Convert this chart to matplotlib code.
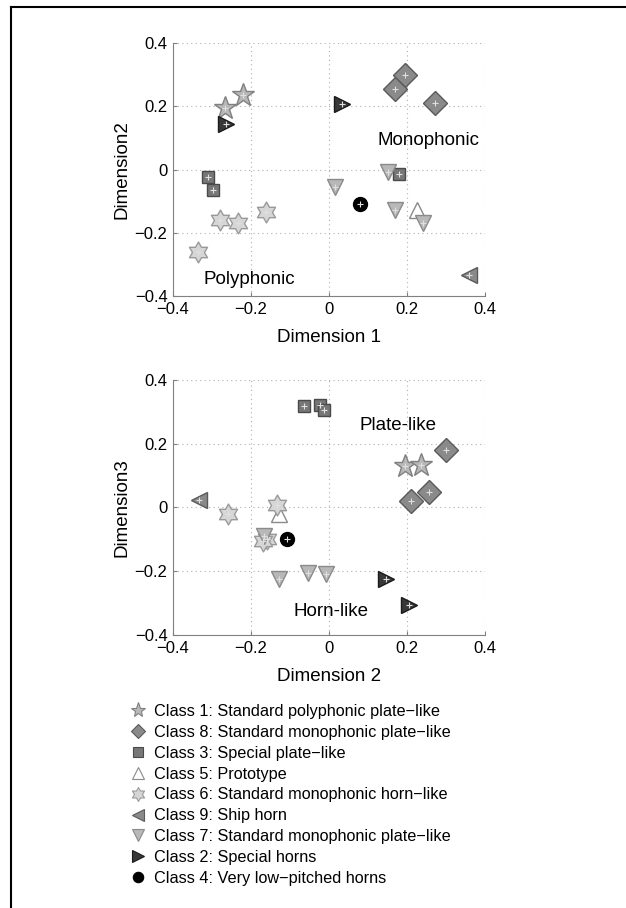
import matplotlib
matplotlib.use("Agg")
import matplotlib.pyplot as plt
from matplotlib.lines import Line2D
from matplotlib.path import Path

plt.rcParams['font.family'] = ['Liberation Sans', 'DejaVu Sans']

# coordinates of each sound class in the 3-D space (dim1, dim2, dim3)
c1_d1 = [-0.267, -0.22]
c1_d2 = [0.196, 0.237]
c1_d3 = [0.131, 0.133]

c8_d1 = [0.195, 0.169, 0.272]
c8_d2 = [0.30, 0.256, 0.211]
c8_d3 = [0.18, 0.049, 0.021]

c3_d1 = [-0.31, -0.297, 0.18]
c3_d2 = [-0.024, -0.064, -0.014]
c3_d3 = [0.32, 0.318, 0.305]

c5_d1 = [0.225]
c5_d2 = [-0.129]
c5_d3 = [-0.02]

c6_d1 = [-0.28, -0.233, -0.162, -0.335]
c6_d2 = [-0.16, -0.17, -0.134, -0.26]
c6_d3 = [-0.10, -0.105, 0.007, -0.022]

c9_d1 = [0.358]
c9_d2 = [-0.333]
c9_d3 = [0.023]

c7_d1 = [0.015, 0.152, 0.169, 0.24]
c7_d2 = [-0.055, -0.008, -0.129, -0.168]
c7_d3 = [-0.207, -0.209, -0.223, -0.088]

c2_d1 = [0.033, -0.264]
c2_d2 = [0.206, 0.145]
c2_d3 = [-0.306, -0.225]

c4_d1 = [0.08]
c4_d2 = [-0.108]
c4_d3 = [-0.10]

labels = ["Class 1: Standard polyphonic plate\u2212like",
          "Class 8: Standard monophonic plate\u2212like",
          "Class 3: Special plate\u2212like",
          "Class 5: Prototype",
          "Class 6: Standard monophonic horn\u2212like",
          "Class 9: Ship horn",
          "Class 7: Standard monophonic plate\u2212like",
          "Class 2: Special horns",
          "Class 4: Very low\u2212pitched horns"]

ticks = [-0.4, -0.2, 0, 0.2, 0.4]
ticklabels = ["\u22120.4", "\u22120.2", "0", "0.2", "0.4"]

hexagram = Path.unit_regular_star(6, 0.577)

# marker, size, legend size, face, edge, plus inside
styles = [
    ('*', 17, 11, '#b8b8b8', '#808080', True),
    ('D', 12.5, 7, '#8a8a8a', '#5a5a5a', True),
    ('s', 9, 6.5, '#777777', '#4a4a4a', True),
    ('^', 12, 8.5, 'white', '#8a8a8a', False),
    (hexagram, 15, 10, '#d6d6d6', '#9a9a9a', True),
    ('<', 12, 8.5, '#8a8a8a', '#5a5a5a', True),
    ('v', 12, 8.5, '#b8b8b8', '#8a8a8a', True),
    ('>', 12, 8.5, '#383838', '#1a1a1a', True),
    ('o', 10, 7.5, 'black', 'black', True),
]

data = [
    (c1_d1, c1_d2, c1_d3), (c8_d1, c8_d2, c8_d3), (c3_d1, c3_d2, c3_d3),
    (c5_d1, c5_d2, c5_d3), (c6_d1, c6_d2, c6_d3), (c9_d1, c9_d2, c9_d3),
    (c7_d1, c7_d2, c7_d3), (c2_d1, c2_d2, c2_d3), (c4_d1, c4_d2, c4_d3),
]

fig = plt.figure(figsize=(6.26, 9.08), dpi=100)
ax1 = fig.add_axes([0.2764, 0.674, 0.4984, 0.2786])
ax2 = fig.add_axes([0.2764, 0.3007, 0.4984, 0.2808])


def draw(ax, xs, ys, st):
    m, ms, lms, fc, ec, plus = st
    ax.plot(xs, ys, linestyle='none', marker=m, markersize=ms,
            markerfacecolor=fc, markeredgecolor=ec, markeredgewidth=1.0,
            clip_on=False, zorder=3)
    if plus:
        ax.plot(xs, ys, linestyle='none', marker='+', markersize=5,
                markeredgecolor='#e0e0e0', markeredgewidth=0.8,
                clip_on=False, zorder=4)


for (d1, d2, d3), st in zip(data, styles):
    draw(ax1, d1, d2, st)
    draw(ax2, d2, d3, st)

for ax in (ax1, ax2):
    ax.set_xlim(-0.4, 0.4)
    ax.set_ylim(-0.4, 0.4)
    ax.set_xticks(ticks)
    ax.set_yticks(ticks)
    ax.set_xticklabels(ticklabels)
    ax.set_yticklabels(ticklabels)
    ax.grid(True, linestyle=(0, (1, 3)), color='#b0b0b0', linewidth=0.8)
    ax.set_axisbelow(True)
    ax.spines['top'].set_visible(False)
    ax.spines['right'].set_visible(False)
    ax.spines['left'].set_color('#808080')
    ax.spines['bottom'].set_color('#808080')
    ax.tick_params(direction='in', length=3, color='#808080',
                   labelsize=12, pad=4)

ax1.set_xlabel("Dimension 1", fontsize=13.5, labelpad=9)
ax1.set_ylabel("Dimension2", fontsize=13.5, labelpad=3)
ax2.set_xlabel("Dimension 2", fontsize=13.5, labelpad=9)
ax2.set_ylabel("Dimension3", fontsize=13.5, labelpad=3)

ax1.text(0.256, 0.091, "Monophonic", fontsize=13.5, ha='center', va='center')
ax1.text(-0.204, -0.348, "Polyphonic", fontsize=13.5, ha='center', va='center')
ax2.text(0.178, 0.258, "Plate-like", fontsize=13.5, ha='center', va='center')
ax2.text(0.004, -0.327, "Horn-like", fontsize=13.5, ha='center', va='center')

handles = []
for st, lab in zip(styles, labels):
    m, ms, lms, fc, ec, plus = st
    handles.append(Line2D([], [], linestyle='none', marker=m,
                          markersize=lms, markerfacecolor=fc,
                          markeredgecolor=ec, markeredgewidth=0.8, label=lab))

fig.legend(handles=handles, loc='upper left',
           bbox_to_anchor=(130 / 626, 1 - 704 / 908), frameon=False,
           fontsize=11.7, labelspacing=0.36, handletextpad=0.5,
           handlelength=1.0, borderaxespad=0, borderpad=0)

# outer frame (top and left edges)
fig.add_artist(Line2D([11 / 626, 11 / 626], [0, 1 - 7 / 908],
                      transform=fig.transFigure, color='black', lw=1.5))
fig.add_artist(Line2D([11 / 626, 1], [1 - 7 / 908, 1 - 7 / 908],
                      transform=fig.transFigure, color='black', lw=1.5))

fig.savefig("out.png", dpi=100)
